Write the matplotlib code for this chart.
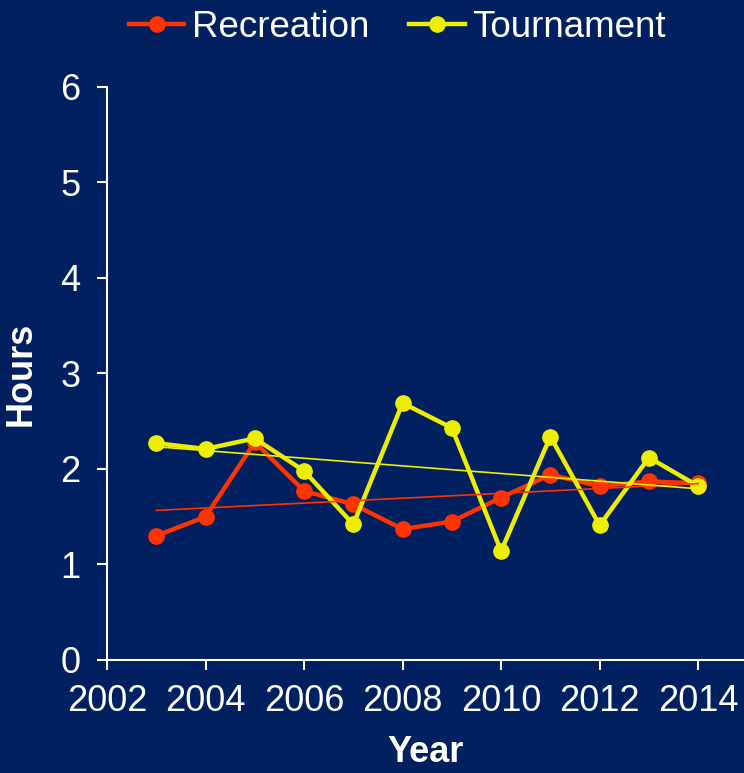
import numpy as np
import matplotlib
matplotlib.use('Agg')
import matplotlib.pyplot as plt

# 数据
years = np.arange(2003, 2015)
recreation = [1.30, 1.50, 2.28, 1.77, 1.63, 1.37, 1.45, 1.70, 1.94, 1.82, 1.87, 1.85]
tournament = [2.27, 2.21, 2.32, 1.98, 1.42, 2.69, 2.43, 1.14, 2.34, 1.41, 2.12, 1.82]
xticks = [2002, 2004, 2006, 2008, 2010, 2012, 2014]
yticks = [0, 1, 2, 3, 4, 5, 6]

bg = '#002060'
red = '#ff3300'
yellow = '#eeee00'

plt.rcParams['font.family'] = ['Liberation Sans', 'DejaVu Sans']

fig = plt.figure(figsize=(7.44, 7.73), dpi=100, facecolor=bg)
ax = fig.add_axes([0.1438, 0.1462, 0.8562, 0.7413], facecolor=bg)

ax.plot(years, recreation, color=red, lw=3.2, marker='o', ms=11, label='Recreation')
ax.plot(years, tournament, color=yellow, lw=3.2, marker='o', ms=11, label='Tournament')

# 线性趋势线
for vals, c in [(recreation, red), (tournament, yellow)]:
    k, b = np.polyfit(years, vals, 1)
    ax.plot(years, k * years + b, color=c, lw=1.2)

ax.set_xlim(2002, 2014.93)
ax.set_ylim(0, 6)
ax.set_xticks(xticks)
ax.set_yticks(yticks)

for s in ['top', 'right']:
    ax.spines[s].set_visible(False)
for s in ['left', 'bottom']:
    ax.spines[s].set_color('white')
    ax.spines[s].set_linewidth(1.5)
ax.tick_params(colors='white', labelsize=26, width=1.5, length=7, direction='out')
ax.tick_params(axis='x', pad=10)
ax.tick_params(axis='y', pad=12)

ax.set_xlabel('Year', color='white', fontsize=26, fontweight='bold', labelpad=12)
ax.set_ylabel('Hours', color='white', fontsize=26, fontweight='bold')
ax.yaxis.set_label_coords(-0.108, 0.5)

leg = fig.legend(loc='upper center', bbox_to_anchor=(0.534, 1.03), ncol=2, frameon=False,
                 fontsize=26.5, handlelength=1.5, columnspacing=1.1, handletextpad=0.2)
for t in leg.get_texts():
    t.set_color('white')

fig.savefig('out.png', dpi=100, facecolor=bg)
